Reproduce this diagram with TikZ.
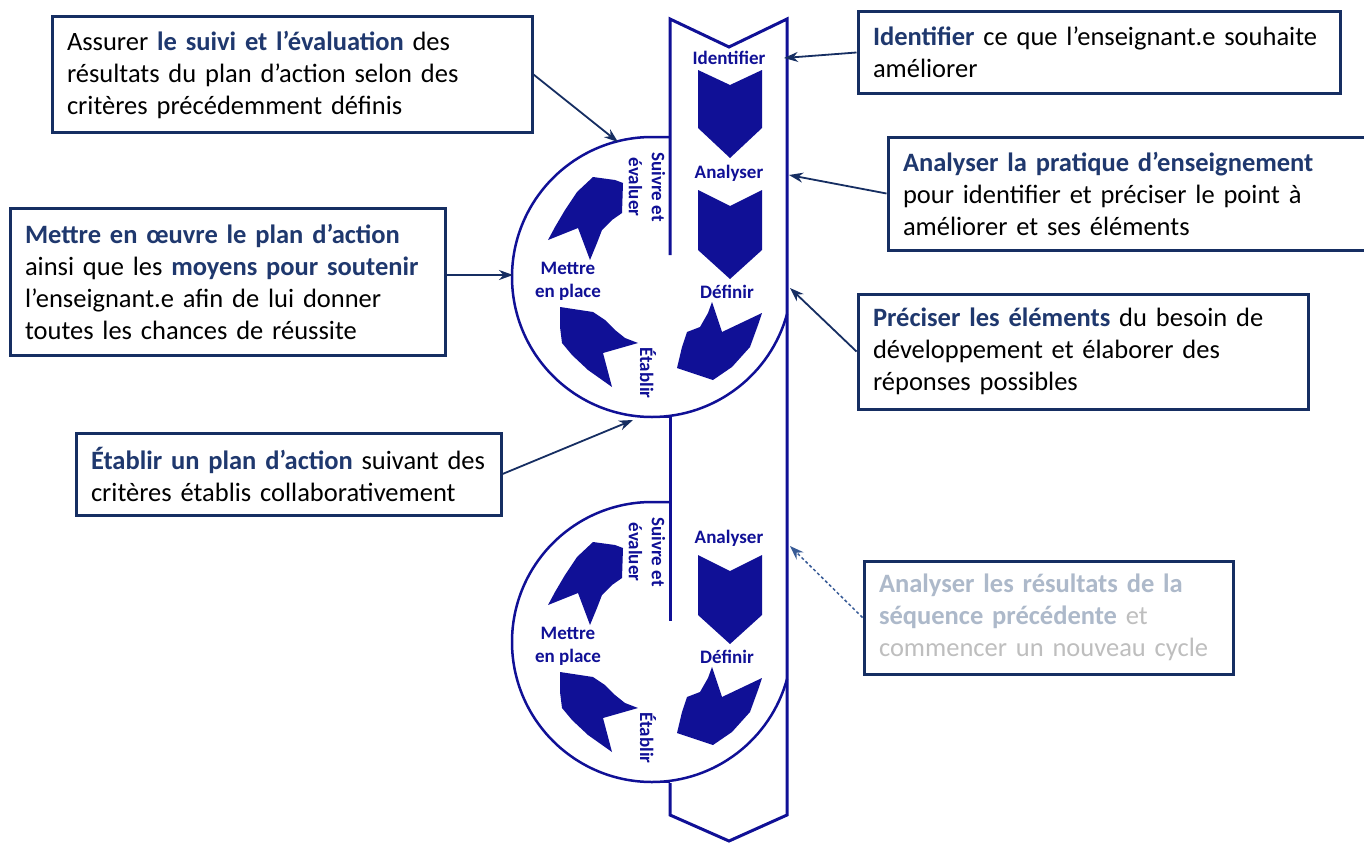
\documentclass[tikz,border=0pt]{standalone}
\usepackage{fontspec}
\setmainfont{Carlito}
\usetikzlibrary{arrows.meta}

\definecolor{ribbonblue}{RGB}{16,16,150}
\definecolor{navy}{RGB}{22,46,98}
\definecolor{textnavy}{RGB}{31,56,110}
\definecolor{palebold}{RGB}{173,185,202}
\definecolor{palegrey}{RGB}{190,190,190}
\definecolor{dashblue}{RGB}{55,90,150}

\newcommand{\hl}[1]{\textcolor{textnavy}{\textbf{#1}}}
\newcommand{\faded}[1]{\textcolor{palebold}{\textbf{#1}}}

\tikzset{
  ribbon/.style={draw=ribbonblue, line width=3pt, line join=miter},
  ring/.style={draw=ribbonblue, line width=2.5pt},
  chevron/.style={fill=ribbonblue},
  stage/.style={text=ribbonblue, font=\fontsize{19}{23}\selectfont\bfseries, align=center, inner sep=0pt},
  infobox/.style={draw=navy, line width=3pt, align=left, inner xsep=15pt, inner ysep=0pt,
                  font=\fontsize{26.5}{32}\selectfont},
  pointer/.style={draw=navy, line width=1.8pt, -{Stealth[length=14pt,width=10pt]}},
}

\begin{document}
\begin{tikzpicture}[x=1pt, y=-1pt]
  \fill[white] (0,0) rectangle (1364,843);
  \useasboundingbox (0,0) rectangle (1364,843);

  % ribbon
  \draw[ribbon] (670,255) -- (670,19) -- (729,47) -- (787,19) -- (787,815)
                -- (729,841) -- (670,815) -- (670,783);
  \draw[ribbon] (670,417) -- (670,621);
  \fill[chevron] (698,70) -- (730,85) -- (762,70) -- (762,128) -- (730,158) -- (698,128) -- cycle;
  \node[stage] (ident) at (729,58) {Identifier};

  \foreach \dy in {0,365} {
    \begin{scope}[yshift=-\dy pt]
      \fill[chevron] (698,190) -- (730,206) -- (762,190) -- (762,250) -- (730,279) -- (698,250) -- cycle;
      \node[stage] (ana\dy) at (729,173) {Analyser};
      \node[stage] (def\dy) at (727,292) {Définir};
    \end{scope}
    \begin{scope}[shift={(652,277+\dy)}]
      \draw[ring] (18,-140) -- (0,-140) arc[start angle=-90, end angle=-344.7, radius=140];
      \draw[ring] (0,140) -- (18,140);
      \fill[chevron] (-59,-100) -- (-37,-97) -- (-29,-94) -- (-30,-64) -- (-40,-57) -- (-50,-47)
        -- (-55,-34) -- (-62,-17) -- (-74,-49) -- (-104,-37) -- (-97,-50) -- (-87,-67) -- (-75,-85) -- cycle;
      \fill[chevron] (-92,30) -- (-59,35) -- (-47,43) -- (-37,53) -- (-27,61) -- (-14,66) -- (-49,76)
        -- (-40,110) -- (-64,93) -- (-80,78) -- (-90,66) -- (-92,50) -- cycle;
      \fill[chevron] (60,25) -- (70,55) -- (110,36) -- (106,48) -- (98,70) -- (80,90) -- (61,103)
        -- (25,91) -- (30,70) -- (35,55) -- (48,50) -- (56,36) -- cycle;
      \node[stage, rotate=-90] (suivre\dy) at (-5,-90) {Suivre et\\évaluer};
      \node[stage] (mettre\dy) at (-84,4) {Mettre\\en place};
      \node[stage, rotate=-90] (etablir\dy) at (-4,96) {Établir};
    \end{scope}
  }

  % text boxes
  \node[infobox, text width=450pt, minimum height=115pt] (suivi) at (292,74.5)
    {Assurer \hl{le suivi et l’évaluation} des\\résultats du plan d’action selon des\\critères précédemment définis};
  \node[infobox, text width=452pt, minimum height=81pt] (identbox) at (1099,52.5)
    {\hl{Identifier} ce que l’enseignant.e souhaite\\améliorer};
  \node[infobox, text width=454pt, minimum height=113pt] (pratique) at (1130,193.5)
    {\hl{Analyser la pratique d’enseignement}\\pour identifier et préciser le point à\\améliorer et ses éléments};
  \node[infobox, text width=420pt, minimum height=115pt] (preciser) at (1083,351.5)
    {\hl{Préciser les éléments} du besoin de\\développement et élaborer des\\réponses possibles};
  \node[infobox, text width=405pt, minimum height=147pt] (oeuvre) at (227.5,281.5)
    {\hl{Mettre en œuvre le plan d’action}\\ainsi que les \hl{moyens pour soutenir}\\l’enseignant.e afin de lui donner\\toutes les chances de réussite};
  \node[infobox, text width=395pt, minimum height=82pt] (plan) at (288.5,474)
    {\hl{Établir un plan d’action} suivant des\\critères établis collaborativement};
  \node[infobox, text=palegrey, text width=339pt, minimum height=113pt] (cycle) at (1048.5,617.5)
    {\faded{Analyser les résultats de la}\\\faded{séquence précédente} et\\commencer un nouveau cycle};

  % pointers
  \coordinate (tipsuivi) at (618,142);
  \coordinate (tipident) at (784,58);
  \coordinate (tippratique) at (789,175);
  \coordinate (tippreciser) at (790,288);
  \coordinate (tipoeuvre) at (513,275);
  \coordinate (tipplan) at (633,420);
  \coordinate (tipcycle) at (790,546);
  \draw[pointer] (suivi.east) -- (tipsuivi);
  \draw[pointer] (identbox.west) -- (tipident);
  \draw[pointer] (pratique.west) -- (tippratique);
  \draw[pointer] (preciser.west) -- (tippreciser);
  \draw[pointer] (oeuvre.east |- tipoeuvre) -- (tipoeuvre);
  \draw[pointer] (plan.east) -- (tipplan);
  \draw[pointer, draw=dashblue, line width=1.5pt, dash pattern=on 3pt off 2.5pt] (cycle.west) -- (tipcycle);
\end{tikzpicture}
\end{document}
